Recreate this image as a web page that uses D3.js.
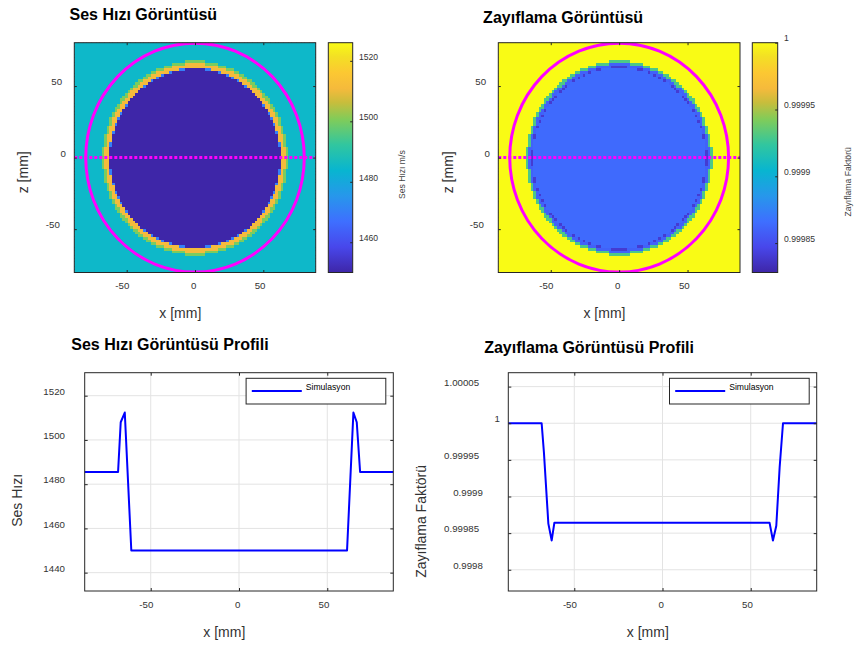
<!DOCTYPE html>
<html>
<head>
<meta charset="utf-8">
<script src="https://cdn.jsdelivr.net/npm/d3@7"></script>
<style>
body { margin: 0; background: #fff; }
</style>
</head>
<body>
<script>
//Data
var gridStep = 1.9;                 // mm per image cell
var xExtent = [-88.35, 88.35];      // image x limits (mm)
var zExtent = [-80.3, 80.3];        // image z limits (mm)
var circle = [0, 0, 80];            // cx, cz, radius (mm)

// radial bands of the two images (band edges in mm, values inside each band)
var sesEdges = [62.2, 62.9, 66.0, 67.9];
var sesRing = [1450, 1470, 1511, 1500, 1485];
var zayEdges = [63.2, 63.9, 66.0, 67.9];
var zayRing = [0.999864, 0.99984, 0.99986, 0.99993, 1];

// colour limits
var sesRange = [1450, 1526];
var zayRange = [0.999828, 1];

// profile along z = 0
var sesX = [-87.4, -68.5, -67.0, -64.7, -61.0, 61.2, 64.8, 66.7, 68.6, 87.4];
var sesV = [1485.5, 1485.5, 1508, 1512.4, 1450, 1450, 1512.4, 1508, 1485.5, 1485.5];
var zayX = [-87.4, -68.5, -67.2, -64.7, -62.8, -61.3, 60.7, 62.6, 64.5, 66.4, 68.3, 87.4];
var zayV = [1, 1, 0.99996, 0.999863, 0.99984, 0.999864, 0.999864, 0.99984, 0.99986, 0.99994, 1, 1];
var sesYlim = [1431.7, 1530.4];
var zayYlim = [0.999771, 1.000069];

//Ticks
var mmTicks = [-50, 0, 50];
var sesTicks = [1440, 1460, 1480, 1500, 1520];
var zayTicks = [0.9998, 0.99985, 0.9999, 0.99995, 1, 1.00005];
var cbSesTicks = [1460, 1480, 1500, 1520];
var cbZayTicks = [0.99985, 0.9999, 0.99995, 1];

//parula-like colour stops
var parulaPos = [0, 0.111, 0.222, 0.333, 0.444, 0.556, 0.667, 0.74, 0.8, 0.87, 0.94, 1];
var parula = ["#3e26a8", "#4847eb", "#3e6fff", "#2797eb", "#08b5d0", "#31c69f",
              "#81cc59", "#c8bd3c", "#f5ba3c", "#fcc832", "#f3e024", "#f9fb15"];

//Formats
var width = 857, height = 650;
var dark = "#262626", textCol = "#333";
var fontTick = 9.7, fontCb = 8.6, fontLab = 14, fontTitle = 16;

var svg = d3.select("body").append("svg")
  .attr("width", width)
  .attr("height", height)
  .style("font-family", '"Liberation Sans", Arial, Helvetica, sans-serif');

var defs = svg.append("defs");

var grad = defs.append("linearGradient").attr("id", "parula")
  .attr("x1", 0).attr("y1", 1).attr("x2", 0).attr("y2", 0);
parula.forEach(function(c, i) {
  grad.append("stop").attr("offset", parulaPos[i]).attr("stop-color", c);
});

//Image cells
var cols = d3.range(-47, 47).map(function(i) { return (i + 0.5) * gridStep; });
var rows = d3.range(-43, 43).map(function(i) { return (i + 0.5) * gridStep; });
var cells = [];
rows.forEach(function(z) {
  cols.forEach(function(x) { cells.push({x: x, z: z, r: Math.hypot(x, z)}); });
});

//Text helpers (text in the picture sits a bit off centre)
function htext(cx, y, str, fs, weight) {
  var t = svg.append("text").attr("y", y).attr("font-size", fs)
    .attr("font-weight", weight || "normal").attr("fill", weight ? "#000" : textCol).text(str);
  t.attr("x", cx - 0.85 * t.node().getComputedTextLength());
  return t;
}
function vtext(x, cy, str, fs, fill) {
  var t = svg.append("text").attr("transform", "translate(" + x + "," + cy + ") rotate(-90)")
    .attr("font-size", fs).attr("fill", fill || textCol).attr("dy", "0.35em").text(str);
  t.attr("x", -0.85 * t.node().getComputedTextLength());
  return t;
}

function styleAxis(g, fs) {
  g.attr("font-family", null).attr("font-size", fs);
  g.select(".domain").remove();
  g.selectAll(".tick line").attr("stroke", dark);
  g.selectAll(".tick text").attr("fill", textCol);
}

//Four-sided inward ticks with labels left and bottom
function frame(g, x, y, p, xt, yt, len) {
  g.append("g").attr("transform", "translate(0," + p.b + ")")
    .call(d3.axisBottom(x).tickValues(xt).tickSizeInner(-len).tickSizeOuter(0).tickPadding(9.9)
      .tickFormat(String))
    .call(styleAxis, fontTick)
    .selectAll(".tick text").attr("dx", function() { return -0.35 * this.getComputedTextLength(); });
  g.append("g").attr("transform", "translate(0," + p.t + ")")
    .call(d3.axisTop(x).tickValues(xt).tickSizeInner(-len).tickSizeOuter(0).tickFormat(""))
    .call(styleAxis, fontTick);
  g.append("g").attr("transform", "translate(" + p.l + ",0)")
    .call(d3.axisLeft(y).tickValues(yt).tickSizeInner(-len).tickSizeOuter(0).tickPadding(4.7)
      .tickFormat(String))
    .call(styleAxis, fontTick)
    .selectAll(".tick text").attr("y", -4.5)
    .attr("dx", function() { return -0.7 * this.getComputedTextLength(); });
  g.append("g").attr("transform", "translate(" + p.r + ",0)")
    .call(d3.axisRight(y).tickValues(yt).tickSizeInner(-len).tickSizeOuter(0).tickFormat(""))
    .call(styleAxis, fontTick);
  g.append("rect").attr("x", p.l).attr("y", p.t)
    .attr("width", p.r - p.l).attr("height", p.b - p.t)
    .attr("fill", "none").attr("stroke", dark).attr("stroke-width", 1);
}

//Image panel
function imagePanel(p) {
  var g = svg.append("g");
  var x = d3.scaleLinear().domain(xExtent).range([p.l, p.r]);
  var y = d3.scaleLinear().domain(zExtent).range([p.b, p.t]);
  var band = d3.scaleThreshold().domain(p.edges).range(p.ring);
  var color = d3.scaleLinear()
    .domain(parulaPos.map(function(t) { return p.range[0] + t * (p.range[1] - p.range[0]); }))
    .range(parula)
    .clamp(true);

  defs.append("clipPath").attr("id", "clip" + p.id).append("rect")
    .attr("x", p.l).attr("y", p.t).attr("width", p.r - p.l).attr("height", p.b - p.t);

  var plot = g.append("g").attr("clip-path", "url(#clip" + p.id + ")");
  var cw = x(gridStep) - x(0), ch = y(0) - y(gridStep);
  plot.append("g").attr("shape-rendering", "crispEdges")
    .selectAll("rect.cell").data(cells).join("rect")
    .attr("class", "cell")
    .attr("x", function(d) { return x(d.x - gridStep / 2); })
    .attr("y", function(d) { return y(d.z + gridStep / 2); })
    .attr("width", cw + 0.6)
    .attr("height", ch + 0.6)
    .attr("fill", function(d) { return color(band(d.r)); });

  plot.append("ellipse")
    .attr("cx", x(circle[0])).attr("cy", y(circle[1]))
    .attr("rx", x(circle[2]) - x(0)).attr("ry", y(0) - y(circle[2]))
    .attr("fill", "none").attr("stroke", "#ff00ff").attr("stroke-width", 3);

  plot.append("line")
    .attr("x1", x(xExtent[0])).attr("x2", x(xExtent[1]))
    .attr("y1", y(0)).attr("y2", y(0))
    .attr("stroke", "#ff00ff").attr("stroke-width", 3).attr("stroke-dasharray", "3,2");

  frame(g, x, y, p, mmTicks, mmTicks, 2.5);

  //Colorbar
  var cy = d3.scaleLinear().domain(p.range).range([p.b, p.t]);
  g.append("rect").attr("x", p.cl).attr("y", p.t)
    .attr("width", p.cr - p.cl).attr("height", p.b - p.t)
    .attr("fill", "url(#parula)").attr("stroke", dark).attr("stroke-width", 1);
  g.append("g").attr("transform", "translate(" + p.cr + ",0)")
    .call(d3.axisRight(cy).tickValues(p.cbTicks).tickSizeInner(-2.5).tickSizeOuter(0).tickPadding(6.3)
      .tickFormat(String))
    .call(styleAxis, fontCb)
    .selectAll(".tick text").attr("y", -4.5);

  htext((p.l + p.r) / 2, p.titleY, p.title, fontTitle, "bold");
  htext((p.l + p.r) / 2, p.b + 45.5, "x [mm]", fontLab);
  vtext(p.ylabX, (p.t + p.b) / 2, "z [mm]", fontLab);
  vtext(p.cbLabX, (p.t + p.b) / 2, p.cbLabel, fontCb, "#444");
}

//Profile panel
function profilePanel(p) {
  var g = svg.append("g");
  var x = d3.scaleLinear().domain(d3.extent(p.xs)).range([p.l, p.r]);
  var y = d3.scaleLinear().domain(p.ylim).range([p.b, p.t]);

  g.append("rect").attr("x", p.l).attr("y", p.t)
    .attr("width", p.r - p.l).attr("height", p.b - p.t).attr("fill", "#fff");

  //Grid
  g.append("g").selectAll("line").data(mmTicks).join("line")
    .attr("x1", x).attr("x2", x).attr("y1", p.t).attr("y2", p.b)
    .attr("stroke", "#e3e3e3").attr("stroke-width", 1);
  g.append("g").selectAll("line").data(p.ticks).join("line")
    .attr("y1", y).attr("y2", y).attr("x1", p.l).attr("x2", p.r)
    .attr("stroke", "#e3e3e3").attr("stroke-width", 1);

  var line = d3.line()
    .x(function(d) { return x(d[0]); })
    .y(function(d) { return y(d[1]); });

  g.append("path").datum(d3.zip(p.xs, p.vs))
    .attr("d", line)
    .attr("fill", "none").attr("stroke", "#0000ff").attr("stroke-width", 2)
    .attr("stroke-linejoin", "round");

  frame(g, x, y, p, mmTicks, p.ticks, 3);

  //Legend
  var lx = p.r - 7.5 - 139.7, ly = p.t + 5.6;
  var leg = g.append("g").attr("transform", "translate(" + lx + "," + ly + ")");
  leg.append("rect").attr("width", 139.7).attr("height", 25.7)
    .attr("fill", "#fff").attr("stroke", dark).attr("stroke-width", 1);
  leg.append("line").attr("x1", 5.7).attr("x2", 55.7).attr("y1", 12.7).attr("y2", 12.7)
    .attr("stroke", "#0000ff").attr("stroke-width", 2);
  leg.append("text").attr("x", 59.7).attr("y", 11.6).attr("font-size", fontCb)
    .attr("fill", "#000").text("Simulasyon");

  htext((p.l + p.r) / 2, p.titleY, p.title, fontTitle, "bold");
  htext((p.l + p.r) / 2, p.b + 45.5, "x [mm]", fontLab);
  vtext(p.ylabX, (p.t + p.b) / 2, p.ylabel, fontLab);
}

imagePanel({id: "a", l: 74.3, r: 315.7, t: 42.7, b: 272.5, cl: 328.3, cr: 352.7,
  edges: sesEdges, ring: sesRing, range: sesRange, cbTicks: cbSesTicks,
  title: "Ses Hızı Görüntüsü", titleY: 19.5, ylabX: 22.7,
  cbLabel: "Ses Hızı m/s", cbLabX: 401.7});

imagePanel({id: "b", l: 498.3, r: 740, t: 42.7, b: 272.5, cl: 752.3, cr: 777.7,
  edges: zayEdges, ring: zayRing, range: zayRange, cbTicks: cbZayTicks,
  title: "Zayıflama Görüntüsü", titleY: 22.5, ylabX: 448,
  cbLabel: "Zayıflama Faktörü", cbLabX: 848});

profilePanel({l: 84.7, r: 393.3, t: 372.7, b: 591,
  xs: sesX, vs: sesV, ylim: sesYlim, ticks: sesTicks,
  title: "Ses Hızı Görüntüsü Profili", titleY: 350, ylabX: 16.7, ylabel: "Ses Hızı"});

profilePanel({l: 508.3, r: 816.7, t: 372.7, b: 591,
  xs: zayX, vs: zayV, ylim: zayYlim, ticks: zayTicks,
  title: "Zayıflama Görüntüsü Profili", titleY: 353.3, ylabX: 420.7, ylabel: "Zayıflama Faktörü"});
</script>
</body>
</html>
